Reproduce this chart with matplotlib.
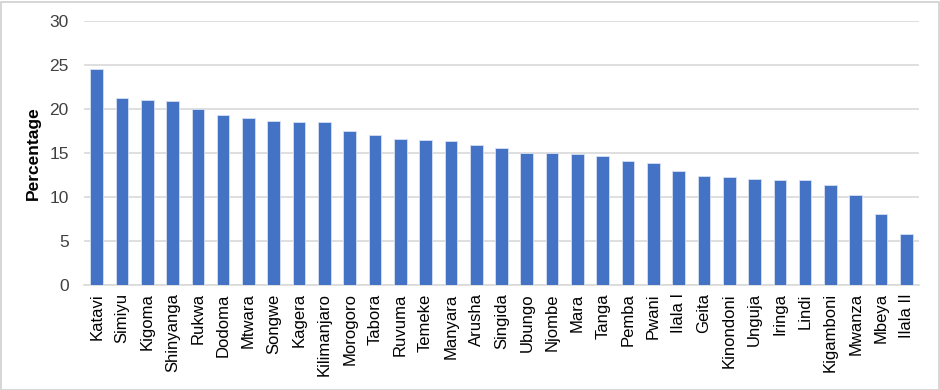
import matplotlib
matplotlib.use("Agg")
import matplotlib.pyplot as plt
from matplotlib.patches import Rectangle

regions = ["Katavi", "Simiyu", "Kigoma", "Shinyanga", "Rukwa", "Dodoma", "Mtwara",
           "Songwe", "Kagera", "Kilimanjaro", "Morogoro", "Tabora", "Ruvuma", "Temeke",
           "Manyara", "Arusha", "Singida", "Ubungo", "Njombe", "Mara", "Tanga", "Pemba",
           "Pwani", "Ilala I", "Geita", "Kinondoni", "Unguja", "Iringa", "Lindi",
           "Kigamboni", "Mwanza", "Mbeya", "Ilala II"]
percentages = [24.5, 21.2, 21.0, 20.85, 19.95, 19.3, 19.0, 18.6, 18.5, 18.5, 17.5,
               17.0, 16.6, 16.45, 16.3, 15.9, 15.5, 15.0, 15.0, 14.9, 14.6, 14.1,
               13.85, 12.95, 12.4, 12.3, 12.05, 11.9, 11.9, 11.4, 10.25, 8.05, 5.8]
yticks = [0, 5, 10, 15, 20, 25, 30]

plt.rcParams['font.family'] = ['Liberation Sans', 'DejaVu Sans']

fig = plt.figure(figsize=(9.4, 3.9), dpi=100)
ax = fig.add_axes([84/940, 1-285/390, (919-84)/940, (285-20.7)/390])

x = range(len(regions))
ax.bar(x, percentages, width=0.5, color="#4472C4", edgecolor="#d6e0f2", linewidth=0.6, zorder=3)

ax.set_ylim(0, 30)
ax.set_xlim(-0.5, len(regions) - 0.5)
ax.set_yticks(yticks)
ax.set_yticklabels([str(t) for t in yticks], fontsize=12.5, color="#404040")
ax.set_xticks(list(x))
ax.set_xticklabels(regions, rotation=90, fontsize=12, color="#000000")
ax.tick_params(axis='both', length=0)
ax.tick_params(axis='y', pad=11)
ax.tick_params(axis='x', pad=6)
ax.yaxis.grid(True, color="#d9d9d9", linewidth=1.2, zorder=0)
for s in ["top", "right", "left"]:
    ax.spines[s].set_visible(False)
ax.spines["bottom"].set_color("#d9d9d9")
ax.spines["bottom"].set_linewidth(1.2)
ax.set_ylabel("Percentage", fontsize=12.5, fontweight="bold", labelpad=6)

fig.patches.append(Rectangle((0.5/940, 0.5/390), 1-2/940, 1-2/390, transform=fig.transFigure,
                             fill=False, edgecolor="#d0d0d0", linewidth=1.2))

fig.savefig("out.png", dpi=100)
